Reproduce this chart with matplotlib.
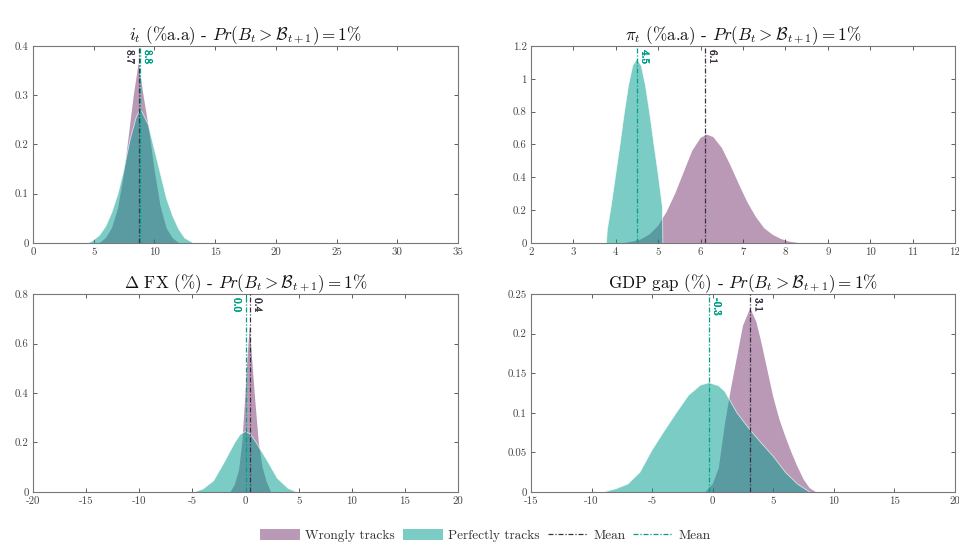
import matplotlib
matplotlib.use('Agg')
import matplotlib.pyplot as plt
import matplotlib.patheffects as pe
from matplotlib.transforms import blended_transform_factory

plt.rcParams['font.family'] = ['cmr10', 'DejaVu Serif']
plt.rcParams['mathtext.fontset'] = 'cm'
plt.rcParams['axes.unicode_minus'] = False

# ---------------- data ----------------
titles = [r'$i_t$ (%a.a) - $Pr(B_t > \mathcal{B}_{t+1}) = 1\%$',
          r'$\pi_t$ (%a.a) - $Pr(B_t > \mathcal{B}_{t+1}) = 1\%$',
          r'$\Delta$ FX (%) - $Pr(B_t > \mathcal{B}_{t+1}) = 1\%$',
          r'GDP gap (%) - $Pr(B_t > \mathcal{B}_{t+1}) = 1\%$']

# interest rate
i_wrong_x = [5.5, 6.0, 6.5, 7.0, 7.5, 8.0, 8.3, 8.7, 9.1, 9.5, 10.0, 10.5, 11.0, 11.5, 12.0]
i_wrong_y = [0.0, 0.01, 0.03, 0.07, 0.14, 0.24, 0.30, 0.365, 0.30, 0.24, 0.15, 0.075, 0.03, 0.01, 0.0]
i_perf_x = [4.6, 5.0, 5.5, 6.0, 6.5, 7.0, 7.5, 8.0, 8.5, 8.8, 9.0, 9.5, 10.0, 10.5, 11.0, 11.5, 12.0, 12.5, 13.2]
i_perf_y = [0.0, 0.006, 0.016, 0.034, 0.062, 0.10, 0.15, 0.21, 0.255, 0.27, 0.265, 0.24, 0.19, 0.14, 0.09, 0.055, 0.028, 0.010, 0.0]

# inflation
pi_wrong_x = [4.2, 4.4, 4.6, 4.8, 5.0, 5.2, 5.4, 5.6, 5.8, 6.0, 6.15, 6.3, 6.5, 6.7, 6.9, 7.1, 7.3, 7.5, 7.7, 7.9, 8.1, 8.3]
pi_wrong_y = [0.0, 0.009, 0.023, 0.053, 0.105, 0.19, 0.30, 0.43, 0.56, 0.64, 0.66, 0.645, 0.58, 0.475, 0.36, 0.25, 0.16, 0.09, 0.05, 0.024, 0.008, 0.0]
pi_perf_x = [3.78, 3.80, 3.9, 4.0, 4.1, 4.2, 4.3, 4.4, 4.5, 4.6, 4.7, 4.8, 4.9, 5.0, 5.1, 5.11]
pi_perf_y = [0.0, 0.08, 0.24, 0.42, 0.60, 0.79, 0.96, 1.08, 1.12, 1.08, 0.96, 0.79, 0.60, 0.42, 0.22, 0.0]

# exchange rate
fx_wrong_x = [-1.4, -1.0, -0.6, -0.3, 0.0, 0.2, 0.4, 0.6, 0.9, 1.25, 1.6, 2.0, 2.4]
fx_wrong_y = [0.0, 0.03, 0.09, 0.20, 0.40, 0.55, 0.67, 0.55, 0.38, 0.20, 0.10, 0.04, 0.0]
fx_perf_x = [-4.8, -4.0, -3.0, -2.0, -1.0, -0.5, 0.0, 0.5, 1.0, 2.0, 3.0, 4.0, 4.8]
fx_perf_y = [0.0, 0.012, 0.045, 0.12, 0.20, 0.232, 0.245, 0.232, 0.20, 0.13, 0.055, 0.015, 0.0]

# output gap
gdp_wrong_x = [-0.6, 0.0, 0.5, 1.0, 1.5, 2.0, 2.5, 3.1, 3.6, 4.0, 4.5, 5.0, 5.5, 6.0, 6.5, 7.0, 7.5, 8.0, 8.5]
gdp_wrong_y = [0.0, 0.01, 0.03, 0.085, 0.13, 0.17, 0.21, 0.232, 0.215, 0.19, 0.155, 0.12, 0.092, 0.07, 0.05, 0.032, 0.016, 0.005, 0.0]
gdp_perf_x = [-9.0, -8.0, -7.0, -6.0, -5.0, -4.0, -3.0, -2.0, -1.0, -0.3, 0.5, 1.0, 2.0, 3.0, 4.0, 5.0, 6.0, 7.0, 8.0]
gdp_perf_y = [0.0, 0.004, 0.01, 0.025, 0.053, 0.077, 0.10, 0.122, 0.135, 0.138, 0.134, 0.127, 0.10, 0.08, 0.062, 0.045, 0.025, 0.01, 0.0]

wrong_x = [i_wrong_x, pi_wrong_x, fx_wrong_x, gdp_wrong_x]
wrong_y = [i_wrong_y, pi_wrong_y, fx_wrong_y, gdp_wrong_y]
perf_x = [i_perf_x, pi_perf_x, fx_perf_x, gdp_perf_x]
perf_y = [i_perf_y, pi_perf_y, fx_perf_y, gdp_perf_y]

mean_wrong = [8.7, 6.1, 0.4, 3.1]
mean_perf = [8.8, 4.5, 0.0, -0.3]
mean_wrong_lbl = ['8.7', '6.1', '0.4', '3.1']
mean_perf_lbl = ['8.8', '4.5', '0.0', '-0.3']
wrong_lbl_side = ['left', 'right', 'right', 'right']
perf_lbl_side = ['right', 'right', 'left', 'right']

xlims = [(0, 35), (2, 12), (-20, 20), (-15, 20)]
xticks = [[0, 5, 10, 15, 20, 25, 30, 35],
          [2, 3, 4, 5, 6, 7, 8, 9, 10, 11, 12],
          [-20, -15, -10, -5, 0, 5, 10, 15, 20],
          [-15, -10, -5, 0, 5, 10, 15, 20]]
xticklabels = [['0', '5', '10', '15', '20', '25', '30', '35'],
               ['2', '3', '4', '5', '6', '7', '8', '9', '10', '11', '12'],
               ['-20', '-15', '-10', '-5', '0', '5', '10', '15', '20'],
               ['-15', '-10', '-5', '0', '5', '10', '15', '20']]
ylims = [(0, 0.4), (0, 1.2), (0, 0.8), (0, 0.25)]
yticks = [[0, 0.1, 0.2, 0.3, 0.4],
          [0, 0.2, 0.4, 0.6, 0.8, 1.0, 1.2],
          [0, 0.2, 0.4, 0.6, 0.8],
          [0, 0.05, 0.1, 0.15, 0.2, 0.25]]
yticklabels = [['0', '0.1', '0.2', '0.3', '0.4'],
               ['0', '0.2', '0.4', '0.6', '0.8', '1', '1.2'],
               ['0', '0.2', '0.4', '0.6', '0.8'],
               ['0', '0.05', '0.1', '0.15', '0.2', '0.25']]

legend_labels = ['Wrongly tracks', 'Perfectly tracks', 'Mean', 'Mean']

# ---------------- style ----------------
c_wrong = (0.38, 0.08, 0.34)
c_perf = (0.0, 0.62, 0.56)
c_wline = '#3c3040'
c_pline = '#00a08a'

fig = plt.figure(figsize=(9.59, 5.48), dpi=100)
positions = [[0.0344, 0.5566, 0.4432, 0.3595],
             [0.5537, 0.5566, 0.4421, 0.3595],
             [0.0344, 0.1022, 0.4432, 0.3613],
             [0.5537, 0.1022, 0.4421, 0.3613]]

handles = None
for k in range(4):
    ax = fig.add_axes(positions[k])
    hw = ax.fill_between(wrong_x[k], wrong_y[k], 0, facecolor=c_wrong, alpha=0.43,
                         edgecolor='none', zorder=2)
    hp = ax.fill_between(perf_x[k], perf_y[k], 0, facecolor=c_perf, alpha=0.52,
                         edgecolor='none', zorder=3)
    ax.plot(perf_x[k], perf_y[k], color='white', lw=0.6, alpha=0.7, zorder=3.5)
    lw_ = ax.axvline(mean_wrong[k], color=c_wline, lw=0.9, ls=(0, (4, 1.5, 1, 1.5)), zorder=4)
    lp_ = ax.axvline(mean_perf[k], color=c_pline, lw=0.9, ls=(0, (4, 1.5, 1, 1.5)), zorder=4)
    tr = blended_transform_factory(ax.transData, ax.transAxes)
    for m, lbl, side, col, sw in [(mean_wrong[k], mean_wrong_lbl[k], wrong_lbl_side[k], c_wline, 0.3),
                                  (mean_perf[k], mean_perf_lbl[k], perf_lbl_side[k], c_pline, 0.45)]:
        dx = 2.5 if side == 'right' else -2.5
        ax.annotate(lbl, xy=(m, 1.0), xycoords=tr, xytext=(dx, -3),
                    textcoords='offset points', rotation=270,
                    ha='left' if side == 'right' else 'right', va='top',
                    fontsize=7.8, color=col, zorder=5,
                    path_effects=[pe.withStroke(linewidth=sw, foreground=col)])
    ax.set_xlim(*xlims[k])
    ax.set_ylim(*ylims[k])
    ax.set_xticks(xticks[k])
    ax.set_xticklabels(xticklabels[k])
    ax.set_yticks(yticks[k])
    ax.set_yticklabels(yticklabels[k])
    ax.tick_params(direction='in', top=True, right=True, length=3, width=0.6,
                   labelsize=7.8, colors='#444444', pad=3)
    for s in ax.spines.values():
        s.set_color('#777777')
        s.set_linewidth(0.8)
    ax.set_title(titles[k], fontsize=12.3, pad=4, color='#111111')
    if handles is None:
        handles = [hw, hp, lw_, lp_]

fig.legend(handles, legend_labels, loc='center', bbox_to_anchor=(0.506, 0.023),
           ncol=4, frameon=False, fontsize=9.6, handlelength=3.0, handleheight=0.9,
           columnspacing=0.6, handletextpad=0.4, labelcolor='#333333')

fig.savefig('out.png', dpi=100)
